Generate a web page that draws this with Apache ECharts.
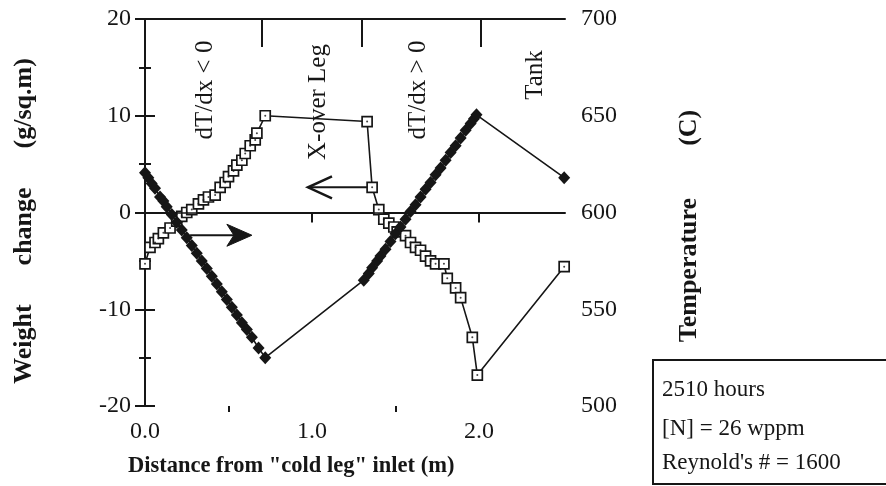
<!DOCTYPE html>
<html>
<head>
<meta charset="utf-8">
<script src="https://cdn.jsdelivr.net/npm/echarts@6/dist/echarts.min.js"></script>
<style>
html,body{margin:0;padding:0;background:#ffffff;}
#c{width:886px;height:486px;}
</style>
</head>
<body>
<div id="c"></div>
<script>
// Weight change (g/sq.m), open squares, left axis
var weightX = [0.00,0.03,0.06,0.08,0.11,0.15,0.19,0.22,0.25,0.28,0.32,0.35,0.38,0.42,0.45,0.48,0.50,0.53,0.55,0.58,0.60,0.63,0.66,0.67,0.72,
               1.33,1.36,1.40,1.43,1.46,1.49,1.51,1.56,1.59,1.62,1.65,1.68,1.71,1.74,1.79,1.81,1.86,1.89,1.96,1.99,2.51];
var weightY = [-5.3,-3.6,-3.1,-2.7,-2.1,-1.6,-0.9,-0.4,0.0,0.3,0.9,1.3,1.6,1.8,2.6,3.1,3.7,4.3,4.9,5.4,6.1,6.9,7.5,8.2,10.0,
               9.4,2.6,0.3,-0.7,-1.1,-1.5,-2.0,-2.4,-3.1,-3.6,-3.9,-4.5,-5.0,-5.3,-5.3,-6.8,-7.8,-8.8,-12.9,-16.8,-5.6];
// Temperature (C), filled diamonds, right axis
var tempX = [0.00,0.02,0.04,0.06,0.09,0.11,0.13,0.16,0.19,0.22,0.25,0.28,0.31,0.34,0.37,0.40,0.43,0.46,0.49,0.52,0.55,0.58,0.61,0.64,0.68,0.72,
             1.31,1.34,1.36,1.39,1.41,1.44,1.47,1.50,1.53,1.56,1.59,1.62,1.65,1.68,1.71,1.74,1.77,1.80,1.83,1.86,1.89,1.92,1.95,1.97,1.985,2.51];
var tempY = [620.5,618,615,612.5,608,606,603,599,595,591,587,583,579,575,571,567,563,559,555,551,547,543,539.5,535.5,530,525,
             565,568.5,571.5,575,577.5,581,585,589,592.5,596.5,600.5,604,608,612,615.5,619.5,623,627,631,634.5,638.5,642.5,646,648.5,650.5,618];
// Axis ticks and annotations
var xLabelValues = [0, 1, 2];
var xMinorValues = [0.5, 1.5];
var regionBounds = [0.70, 1.30, 2.01];
var regionNames = ["dT/dx < 0", "X-over Leg", "dT/dx > 0", "Tank"];
var infoLines = ["2510 hours", "[N] = 26 wppm", "Reynold's # = 1600"];

var weightData = weightX.map(function(x,i){return [x, weightY[i]];});
var tempData = tempX.map(function(x,i){return [x, tempY[i]];});

var FONT = "'Liberation Serif','Times New Roman',serif";
var INK = '#161616';
var chart = echarts.init(document.getElementById('c'), null, {renderer:'canvas'});

var axLine = {show:true, lineStyle:{color:INK, width:2}};
var option = {
  backgroundColor:'#ffffff',
  animation:false,
  grid:{left:145, right:321, top:19, bottom:80, containLabel:false},
  xAxis:[
    {type:'value', position:'bottom', min:0, max:2.515,
     axisLine:axLine, splitLine:{show:false},
     axisTick:{show:true, customValues:xLabelValues, length:10, lineStyle:{color:INK,width:2}},
     axisLabel:{show:true, customValues:xLabelValues, margin:14, color:INK, fontFamily:FONT, fontSize:24,
                formatter:function(v){return v.toFixed(1);}}},
    {type:'value', position:'top', min:0, max:2.515,
     axisLine:axLine, splitLine:{show:false},
     axisTick:{show:true, inside:true, customValues:regionBounds, length:28, lineStyle:{color:INK,width:2}},
     axisLabel:{show:false}},
    {type:'value', position:'bottom', min:0, max:2.515,
     axisLine:{show:false}, splitLine:{show:false},
     axisTick:{show:true, customValues:xMinorValues, length:6, lineStyle:{color:INK,width:2}},
     axisLabel:{show:false}}
  ],
  yAxis:[
    {type:'value', position:'left', min:-20, max:20, interval:10,
     axisLine:axLine, splitLine:{show:false},
     axisTick:{show:true, length:10, lineStyle:{color:INK,width:2}},
     minorTick:{show:true, splitNumber:2, length:6, lineStyle:{color:INK,width:2}},
     axisLabel:{margin:14, color:INK, fontFamily:FONT, fontSize:24}},
    {type:'value', position:'right', min:500, max:700, interval:50,
     axisLine:axLine, splitLine:{show:false},
     axisTick:{show:true, length:10, lineStyle:{color:INK,width:2}},
     minorTick:{show:true, splitNumber:2, length:6, lineStyle:{color:INK,width:2}},
     axisLabel:{margin:16, color:INK, fontFamily:FONT, fontSize:24}}
  ],
  series:[
    {name:'Weight change', type:'line', xAxisIndex:0, yAxisIndex:0, data:weightData,
     symbol:'rect', symbolSize:10, showAllSymbol:true,
     itemStyle:{color:'#ffffff', borderColor:INK, borderWidth:1.7},
     lineStyle:{color:INK, width:1.6}, z:3,
     markLine:{silent:true, symbol:'none', label:{show:false},
               lineStyle:{color:INK, width:1.6, type:'solid'}, data:[{yAxis:0}]}},
    {name:'dots', type:'scatter', xAxisIndex:0, yAxisIndex:0, data:weightData,
     symbol:'circle', symbolSize:2, itemStyle:{color:INK}, z:4},
    {name:'Temperature', type:'line', xAxisIndex:0, yAxisIndex:1, data:tempData,
     symbol:'diamond', symbolSize:[12,13], showAllSymbol:true,
     itemStyle:{color:INK}, lineStyle:{color:INK, width:1.6}, z:5}
  ]
};
chart.setOption(option);

function px(x, y){ return chart.convertToPixel({xAxisIndex:0, yAxisIndex:0}, [x, y]); }

var g = [];
// axis titles
g.push({type:'text', x:24, y:221, rotation:Math.PI/2,
  style:{text:'Weight      change      (g/sq.m)', fontFamily:FONT, fontWeight:'bold', fontSize:26, fill:INK, align:'center', verticalAlign:'middle'}});
g.push({type:'text', x:689, y:226, rotation:Math.PI/2,
  style:{text:'Temperature        (C)', fontFamily:FONT, fontWeight:'bold', fontSize:26, fill:INK, align:'center', verticalAlign:'middle'}});
g.push({type:'text', x:128, y:466,
  style:{text:'Distance from "cold leg" inlet (m)', fontFamily:FONT, fontWeight:'bold', fontSize:22.5, fill:INK, align:'left', verticalAlign:'middle'}});
// region annotations
var regionPos = [[205,90],[318,102],[418,90],[535,75]];
regionNames.forEach(function(t,i){
  g.push({type:'text', x:regionPos[i][0], y:regionPos[i][1], rotation:Math.PI/2,
    style:{text:t, fontFamily:FONT, fontSize:25, fill:INK, align:'center', verticalAlign:'middle'}});
});
// info box
g.push({type:'rect', shape:{x:653, y:360, width:240, height:124}, style:{fill:'rgba(0,0,0,0)', stroke:INK, lineWidth:2}});
var infoY = [390, 429, 463];
infoLines.forEach(function(t,i){
  g.push({type:'text', x:662, y:infoY[i], style:{text:t, fontFamily:FONT, fontSize:23, fill:INK, align:'left', verticalAlign:'middle'}});
});
// left-pointing open arrow (squares -> left axis)
var a1 = px(1.36, 2.6), a2 = px(0.976, 2.6);
g.push({type:'polyline', shape:{points:[a1, a2]}, style:{stroke:INK, lineWidth:2, fill:null}});
g.push({type:'polyline', shape:{points:[[a2[0]+24, a2[1]-11],[a2[0], a2[1]],[a2[0]+24, a2[1]+11]]}, style:{stroke:INK, lineWidth:2.5, fill:null}});
// right-pointing filled arrow (diamonds -> right axis)
var b1 = px(0.27, -2.35), b2 = px(0.64, -2.35);
g.push({type:'polyline', shape:{points:[b1, [b2[0]-14, b2[1]]]}, style:{stroke:INK, lineWidth:2, fill:null}});
g.push({type:'polygon', shape:{points:[[b2[0], b2[1]],[b2[0]-25, b2[1]-11],[b2[0]-18, b2[1]],[b2[0]-25, b2[1]+11]]}, style:{fill:INK, stroke:INK, lineWidth:1}});

chart.setOption({graphic:g});
</script>
</body>
</html>
